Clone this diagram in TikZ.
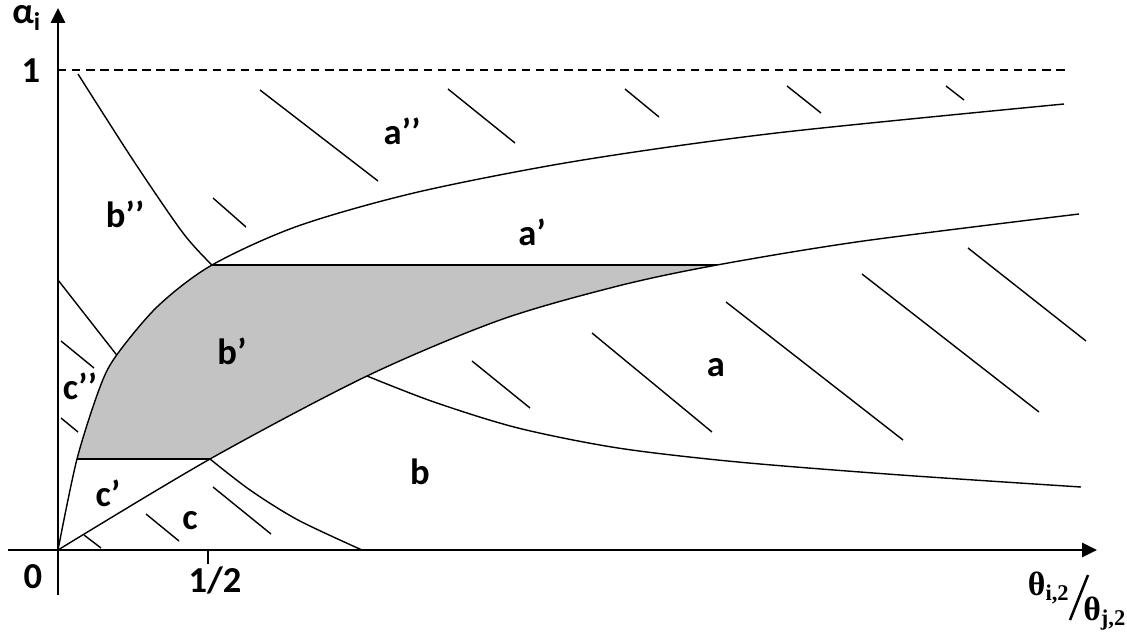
\documentclass[tikz,border=0pt]{standalone}
\usepackage{fontspec}
\setmainfont{Carlito}
\newfontfamily\thetafont{Liberation Serif}
\usetikzlibrary{arrows.meta}
\definecolor{regiongray}{RGB}{195,195,195}
\newcommand\uppercurve{plot[smooth] coordinates {(0,0) (0.475,2.275) (1.05,4.075) (1.467,4.875) (2.5,6.1) (3.85,7.125) (6,8.1) (9,8.95) (13,9.73) (18,10.43) (25.15,11.15)}}
\newcommand\lowercurve{plot[smooth] coordinates {(0,0) (3.8,2.275) (7.725,4.35) (11.05,5.75) (14,6.6) (16.475,7.125) (20.1,7.72) (25.525,8.4)}}

\begin{document}
\begin{tikzpicture}[x=0.5cm, y=0.5cm, >={Triangle[length=5.3pt,width=5pt]},
    font=\fontsize{13}{15}\selectfont\bfseries,
    curve/.style={line width=0.5pt},
    hatch/.style={line width=0.5pt},
    axis/.style={line width=0.9pt}]
  \useasboundingbox (-1.45,-2.05) rectangle (26.725,13.75);
  \coordinate (O) at (0,0);
  \coordinate (P) at (3.85,7.125);
  \coordinate (Q) at (0.475,2.275);
  \coordinate (H) at (3.8,2.275);
  \coordinate (R) at (16.475,7.125);
  \coordinate (S) at (7.725,4.35);
  \coordinate (T) at (7.6,0);
  \coordinate (U) at (1.467,4.875);
  \coordinate (Y) at (0,6.75);
  \coordinate (B) at (0.5,11.9);
  \coordinate (E) at (25.575,1.575);

  % region b'
  \begin{scope}
    \clip \uppercurve -- (26,0) -- cycle;
    \clip \lowercurve -- (26,13) -- (0,13) -- cycle;
    \fill[regiongray] (0,2.275) rectangle (26,7.125);
  \end{scope}

  \draw[curve] \uppercurve;
  \draw[curve] \lowercurve;
  \draw[curve] (Q) -- (H);
  \draw[curve] (P) -- (R);
  \draw[curve] (Y) -- (U);
  \draw[curve] plot[smooth] coordinates {(B) (1.875,9.75) (3.125,7.925) (P)};
  \draw[curve] plot[smooth] coordinates {(H) (4.8,1.5) (6.0,0.75) (T)};
  \draw[curve] plot[smooth] coordinates {(S) (9.4,3.7) (11.5,3.05) (14,2.55) (17,2.2) (21,1.88) (E)};

  \foreach \xa/\ya/\xb/\yb in {5.05/11.5/8.0/9.225, 9.75/11.525/11.425/10.175,
      14.175/11.525/15.025/10.825, 18.225/11.6/19.075/10.925, 22.2/11.6/22.65/11.25,
      3.875/8.8/4.7/8.075, 10.35/4.725/11.8/3.55, 13.35/5.425/16.35/2.95,
      16.7/6.2/21.125/2.75, 20.1/6.9/24.525/3.45, 22.75/7.55/25.7/5.225,
      0.075/5.225/0.9/4.55, 0.075/3.3/0.5/2.95, 0.65/0.375/1.075/0.05,
      2.2/0.9/3.025/0.225, 3.875/1.575/5.325/0.4}
    \draw[hatch] (\xa,\ya) -- (\xb,\yb);

  \draw[axis,->] (-1.25,0) -- (25.975,0);
  \draw[axis,->] (0,-1.125) -- (0,13.55);
  \draw[axis,dash pattern=on 3pt off 2pt] (0,12) -- (25.175,12);
  \draw[axis] (3.75,0) -- (3.75,-0.35);

  \node (a2) at (8.6,10.475) {a’’};
  \node (a1) at (11.85,7.95) {a’};
  \node (a0) at (16.45,4.55) {a};
  \node (b2) at (1.675,8.4) {b’’};
  \node (b1) at (4.35,4.975) {b’};
  \node (b0) at (9.05,1.95) {b};
  \node (c2) at (0.55,4.1) {c’’};
  \node (c1) at (1.25,1.425) {c’};
  \node (c0) at (3.3,0.725) {c};

  \node (one) at (-0.675,11.975) {1};
  \node (zero) at (-0.625,-0.675) {0};
  \node (half) at (3.925,-0.75) {1/2};
  \node (alpha) at (-0.775,13.3) {α\textsubscript{i}};
  \node[font=\fontsize{12}{14}\selectfont\thetafont\bfseries] (thi) at (24.775,-0.95) {θ\textsubscript{i,2}};
  \node[font=\fontsize{12}{14}\selectfont\thetafont\bfseries] (thj) at (26.175,-1.6) {θ\textsubscript{j,2}};
  \coordinate (s1) at (25.75,-0.625);
  \coordinate (s2) at (25.3,-1.75);
  \draw[axis] (s1) -- (s2);
\end{tikzpicture}
\end{document}
